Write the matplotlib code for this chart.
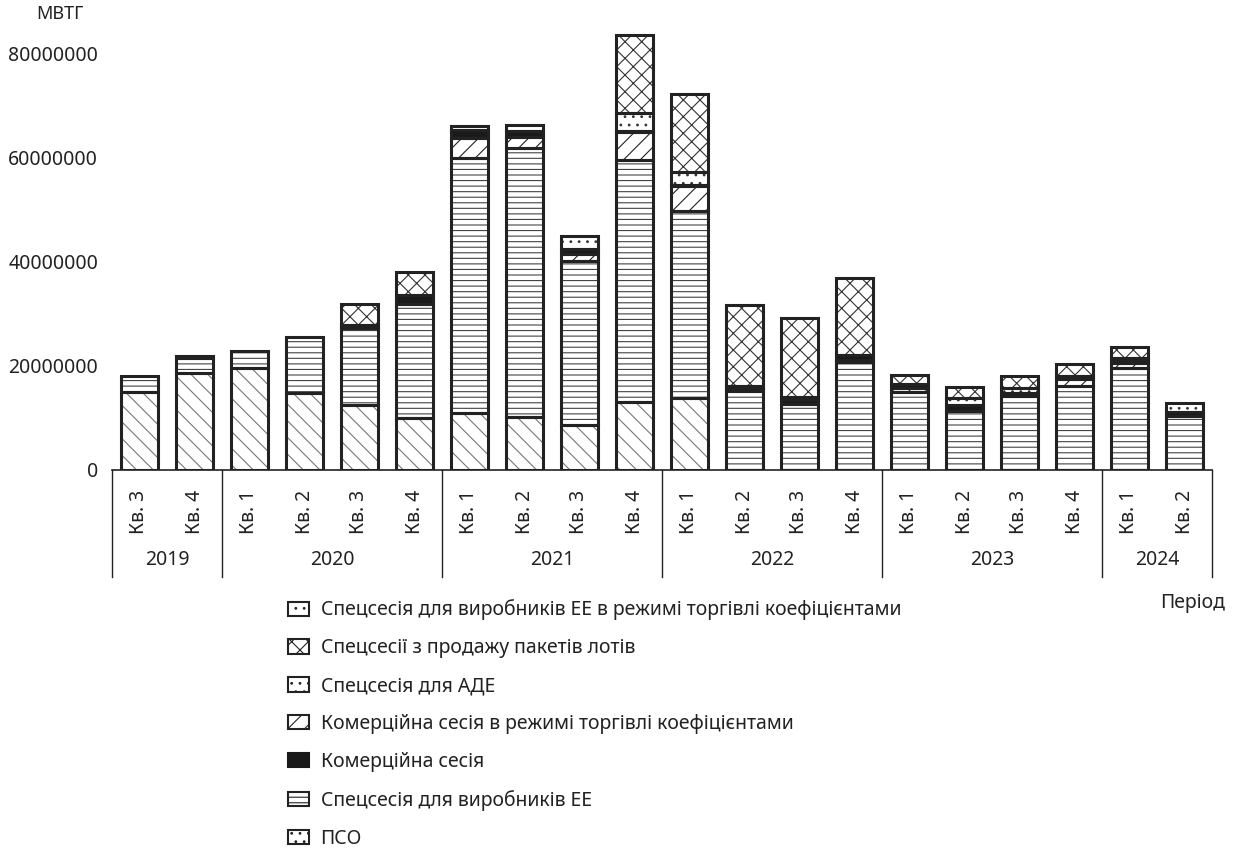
import numpy as np
import matplotlib
matplotlib.use("Agg")
import matplotlib.pyplot as plt
import matplotlib.patches as mpatches
import matplotlib.transforms as mtransforms

plt.rcParams['font.family'] = ['Noto Sans', 'DejaVu Sans']
plt.rcParams['hatch.linewidth'] = 0.8

# Periods
quarters = ["Кв. 3", "Кв. 4",
            "Кв. 1", "Кв. 2", "Кв. 3", "Кв. 4",
            "Кв. 1", "Кв. 2", "Кв. 3", "Кв. 4",
            "Кв. 1", "Кв. 2", "Кв. 3", "Кв. 4",
            "Кв. 1", "Кв. 2", "Кв. 3", "Кв. 4",
            "Кв. 1", "Кв. 2"]
years = ["2019", "2020", "2021", "2022", "2023", "2024"]
quarters_per_year = [2, 4, 4, 4, 4, 2]

# Volumes, million MWh
pso = [15.0, 18.6, 19.6, 14.75, 12.5, 9.9, 11.0, 10.2, 8.7, 13.1,
       13.9, 0, 0, 0, 0, 0, 0, 0, 0, 0]
spec_ee = [3.1, 3.0, 3.3, 10.8, 14.8, 22.0, 48.9, 51.7, 31.5, 46.5,
           35.8, 15.2, 12.7, 20.8, 15.0, 11.4, 14.3, 16.1, 19.6, 10.4]
kom_coef = [0, 0, 0, 0, 0, 0, 4.0, 2.2, 1.3, 5.3,
            4.9, 0, 0, 0.4, 0.7, 0, 0, 1.3, 1.0, 0]
kom = [0, 0.3, 0, 0, 0.6, 1.7, 1.4, 1.15, 0.9, 0.2,
       0.2, 0.6, 0.9, 0.9, 0.8, 1.1, 0.5, 0.7, 0.5, 0.8]
ade = [0, 0, 0, 0, 0, 0, 0, 1.15, 2.6, 3.5,
       2.4, 0.4, 0.5, 0, 0, 1.3, 1.0, 0, 0.4, 1.7]
lots = [0, 0, 0, 0, 4.0, 4.4, 0, 0, 0, 15.1,
        15.05, 15.5, 15.2, 14.9, 1.8, 2.1, 2.3, 2.3, 2.2, 0]
ee_coef = [0, 0, 0, 0, 0, 0, 0.8, 0, 0, 0,
           0, 0, 0, 0, 0, 0, 0, 0, 0, 0]

# stacking order bottom -> top: (name, values, bar hatch, legend hatch, hatch colour, face)
series = [
    ("ПСО", pso, "\\\\", "..", "#777777", "white"),
    ("Спецсесія для виробників ЕЕ", spec_ee, "---", "---", "#444444", "white"),
    ("Комерційна сесія в режимі торгівлі коефіцієнтами", kom_coef, "//", "//", "#222222", "white"),
    ("Комерційна сесія", kom, "", "", "#1a1a1a", "#1a1a1a"),
    ("Спецсесія для АДЕ", ade, "..", "..", "#333333", "white"),
    ("Спецсесії з продажу пакетів лотів", lots, "xx", "xx", "#333333", "white"),
    ("Спецсесія для виробників ЕЕ в режимі торгівлі коефіцієнтами", ee_coef, "..", "..", "#333333", "white"),
]
legend_order = [6, 5, 4, 2, 3, 1, 0]

fig = plt.figure(figsize=(12.34, 8.65), dpi=100)
ax = fig.add_axes([112 / 1234, 1 - 470 / 865, 1100 / 1234, 450 / 865])

x = np.arange(len(quarters))
width = 0.69
bottom = np.zeros(len(quarters))
for name, vals, hatch, lhatch, hcol, fcol in series:
    h = np.array(vals) * 1e6
    fill = ax.bar(x, h, width, bottom=bottom, color=fcol, edgecolor=hcol,
                  hatch=hatch, linewidth=0, zorder=2)
    outline = ax.bar(x, h, width, bottom=bottom, fill=False, edgecolor="#222222",
                     linewidth=2.2, zorder=3)
    for p, q in zip(fill.patches, outline.patches):
        if p.get_height() == 0:
            p.set_visible(False)
            q.set_visible(False)
    bottom += h

ax.set_xlim(-0.5, len(quarters) - 0.5)
ax.set_ylim(0, 86.5e6)
ax.set_yticks([0, 20e6, 40e6, 60e6, 80e6])
ax.set_yticklabels(["0", "20000000", "40000000", "60000000", "80000000"])
ax.tick_params(axis='y', length=0, labelsize=14, pad=10, colors="#222222")
ax.set_xticks([])
for s in ["top", "right", "left"]:
    ax.spines[s].set_visible(False)
ax.spines["bottom"].set_color("#222222")
ax.spines["bottom"].set_linewidth(1.2)

# multi-level category axis
trans = mtransforms.blended_transform_factory(ax.transData, ax.transAxes)
for i, q in enumerate(quarters):
    ax.text(i, -0.093, q, rotation=90, ha="center", va="center", fontsize=14,
            color="#222222", transform=trans)
edges = np.concatenate([[0], np.cumsum(quarters_per_year)]) - 0.5
for e in edges:
    ax.plot([e, e], [0, -0.238], color="#222222", lw=1.0, transform=trans, clip_on=False)
for k, yr in enumerate(years):
    mid = (edges[k] + edges[k + 1]) / 2
    ax.text(mid, -0.2, yr, ha="center", va="center", fontsize=14,
            color="#222222", transform=trans)

fig.text(60 / 1234, 1 - 14 / 865, "МВТГ", ha="center", va="center", fontsize=13, color="#222222")
fig.text(1225 / 1234, 1 - 603 / 865, "Період", ha="right", va="center", fontsize=14, color="#222222")

handles = []
labels = []
for idx in legend_order:
    name, vals, hatch, lhatch, hcol, fcol = series[idx]
    if fcol == "white":
        handles.append(mpatches.Patch(facecolor="white", edgecolor="#222222", hatch=lhatch, linewidth=1.5))
    else:
        handles.append(mpatches.Patch(facecolor=fcol, edgecolor=fcol, linewidth=1.5))
    labels.append(name)
fig.legend(handles, labels, loc="upper left", bbox_to_anchor=(270 / 1234, 1 - 582 / 865),
           frameon=False, fontsize=14, handlelength=1.1, handleheight=0.75,
           labelspacing=0.92, handletextpad=0.6, labelcolor="#222222")

fig.savefig("out.png", dpi=100)
